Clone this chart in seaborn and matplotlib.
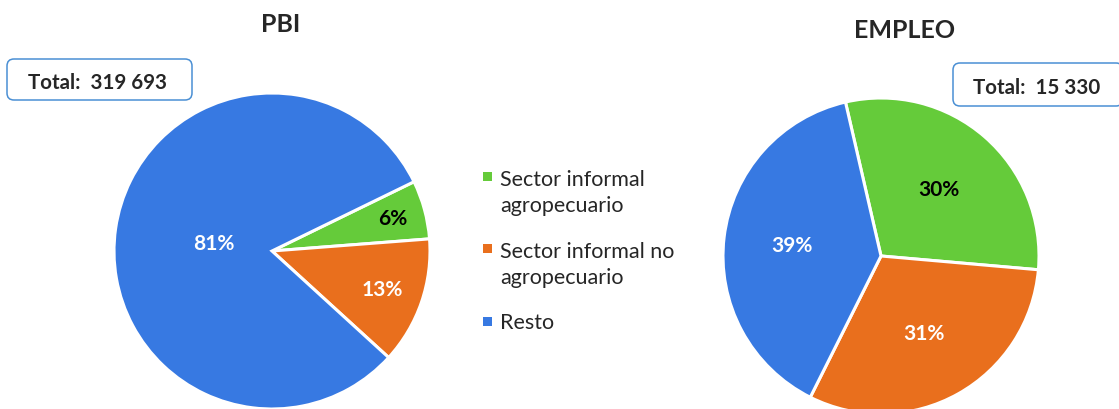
import matplotlib
matplotlib.use('Agg')
import numpy as np
import matplotlib.pyplot as plt
import seaborn as sns
from matplotlib.patches import FancyBboxPatch, Rectangle

# data
categories = ['Sector informal\nagropecuario', 'Sector informal no\nagropecuario', 'Resto']
pbi_share = [6, 13, 81]
empleo_share = [30, 31, 39]
totals = ['Total:  319 693', 'Total:  15 330']
titles = ['PBI', 'EMPLEO']

sns.set_theme(style='white')
plt.rcParams['font.family'] = ['Lato', 'DejaVu Sans']

colors = sns.color_palette(['#65CB3A', '#E96F1D', '#3779E2'])
pct_colors = ['black', 'white', 'white']

W, H = 1119, 410
fig = plt.figure(figsize=(W / 100, H / 100), dpi=100)


def px_axes(cx, cy, r):
    # axes box in figure fraction from a pixel centre/radius (y from top)
    return fig.add_axes([(cx - r) / W, (H - cy - r) / H, 2 * r / W, 2 * r / H])


def draw_pie(ax, values, start, label_r):
    wedges, _, autotexts = ax.pie(values, colors=colors, startangle=start, counterclock=False,
                                  autopct='%1.0f%%', radius=1,
                                  wedgeprops=dict(edgecolor='white', linewidth=2.2),
                                  textprops=dict(fontsize=15, fontweight='bold'))
    for w, t, c, d in zip(wedges, autotexts, pct_colors, label_r):
        ang = np.deg2rad((w.theta1 + w.theta2) / 2)
        t.set_position((d * np.cos(ang), d * np.sin(ang)))
        t.set_color(c)
    ax.set_xlim(-1, 1)
    ax.set_ylim(-1, 1)
    ax.set_aspect('equal')
    ax.axis('off')


ax1 = px_axes(272, 252, 158)
draw_pie(ax1, pbi_share, 26, [0.79, 0.74, 0.37])
ax2 = px_axes(881, 257, 158)
draw_pie(ax2, empleo_share, 103, [0.56, 0.56, 0.57])

# titles
fig.text(281 / W, 1 - 25 / H, titles[0], ha='center', va='center', fontsize=18, fontweight='bold')
fig.text(905 / W, 1 - 31 / H, titles[1], ha='center', va='center', fontsize=18, fontweight='bold')

# total boxes (inches = px / 100)
for (x0, y0, w, h), txt in zip([(7, 60, 185, 41), (953, 64, 170, 43)], totals):
    box = FancyBboxPatch((x0 / 100, (H - y0 - h) / 100), w / 100, h / 100,
                         boxstyle='round,pad=0,rounding_size=0.07',
                         transform=fig.dpi_scale_trans, fc='white', ec='#4A8FD4', lw=1.1)
    fig.add_artist(box)
fig.text(97 / 100, (H - 83) / 100, totals[0], transform=fig.dpi_scale_trans,
         ha='center', va='center', fontsize=14.8, fontweight='bold')
fig.text(1037 / 100, (H - 88) / 100, totals[1], transform=fig.dpi_scale_trans,
         ha='center', va='center', fontsize=14.8, fontweight='bold')

# legend in the middle, square aligned with the first line of each label
for i, (cat, c) in enumerate(zip(categories, colors)):
    yc = 177 + 72.5 * i
    fig.add_artist(Rectangle((483 / 100, (H - yc - 4.5) / 100), 0.09, 0.09,
                             transform=fig.dpi_scale_trans, fc=c, ec='none'))
    # multi-line text: baseline refers to the last line
    base = yc + 7 + 28 * cat.count('\n')
    fig.text(500 / 100, (H - base) / 100, cat, transform=fig.dpi_scale_trans,
             ha='left', va='baseline', fontsize=15.5, linespacing=1.39)

fig.savefig('out.png', dpi=100)
